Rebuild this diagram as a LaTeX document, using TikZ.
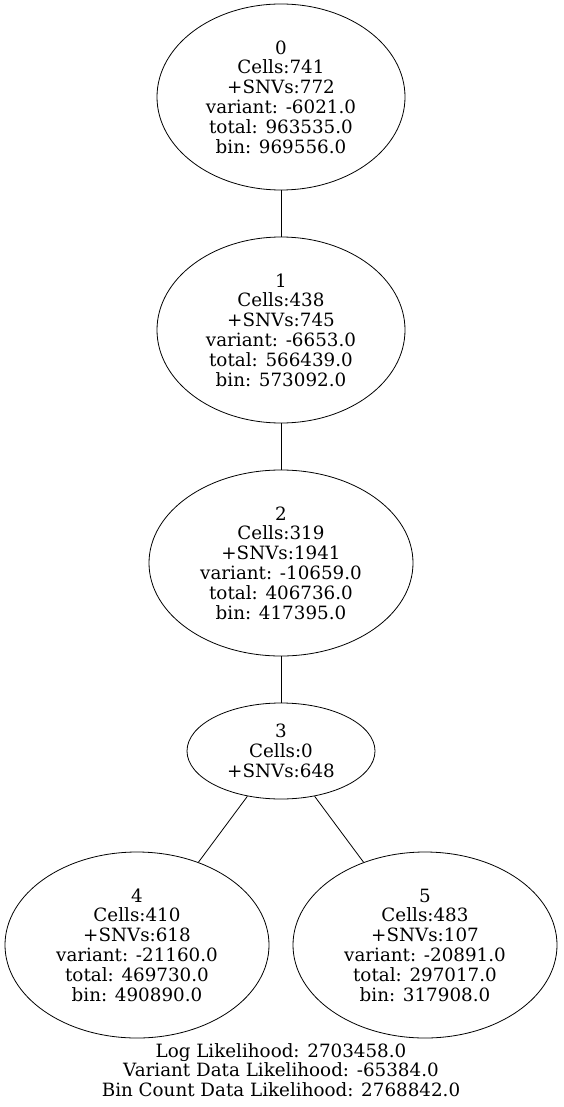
\documentclass[tikz,border=0pt]{standalone}
\usepackage{fontspec}
\setmainfont{DejaVu Serif}
\usetikzlibrary{shapes.geometric}
\begin{document}
\begin{tikzpicture}[x=1pt,y=-1pt,
  tnode/.style={draw, ellipse, inner sep=0pt, align=center,
    font=\fontsize{18.3}{19.8}\selectfont, line width=0.8pt},
  wide/.style={tnode, minimum width=264pt, minimum height=186pt},
  mid/.style={tnode, minimum width=248pt, minimum height=186pt},
  small/.style={tnode, minimum width=188pt, minimum height=96pt},
  edge/.style={line width=0.8pt}]
\useasboundingbox (0,0) rectangle (563,1107);
\node[mid]  (n0) at (281,97)  {0\\Cells:741\\+SNVs:772\\variant: -6021.0\\total: 963535.0\\bin: 969556.0};
\node[mid]  (n1) at (281,330) {1\\Cells:438\\+SNVs:745\\variant: -6653.0\\total: 566439.0\\bin: 573092.0};
\node[wide] (n2) at (281,563) {2\\Cells:319\\+SNVs:1941\\variant: -10659.0\\total: 406736.0\\bin: 417395.0};
\node[small] (n3) at (281,751) {3\\Cells:0\\+SNVs:648};
\node[wide] (n4) at (137,945) {4\\Cells:410\\+SNVs:618\\variant: -21160.0\\total: 469730.0\\bin: 490890.0};
\node[wide] (n5) at (425,945) {5\\Cells:483\\+SNVs:107\\variant: -20891.0\\total: 297017.0\\bin: 317908.0};
\draw[edge] (n0) -- (n1);
\draw[edge] (n1) -- (n2);
\draw[edge] (n2) -- (n3);
\draw[edge] (n3) -- (n4);
\draw[edge] (n3) -- (n5);
\node[align=center, inner sep=0pt, font=\fontsize{18.3}{19.5}\selectfont] (lik) at (281,1070)
  {Log Likelihood: 2703458.0\\Variant Data Likelihood: -65384.0\\Bin Count Data Likelihood: 2768842.0};
\end{tikzpicture}
\end{document}
